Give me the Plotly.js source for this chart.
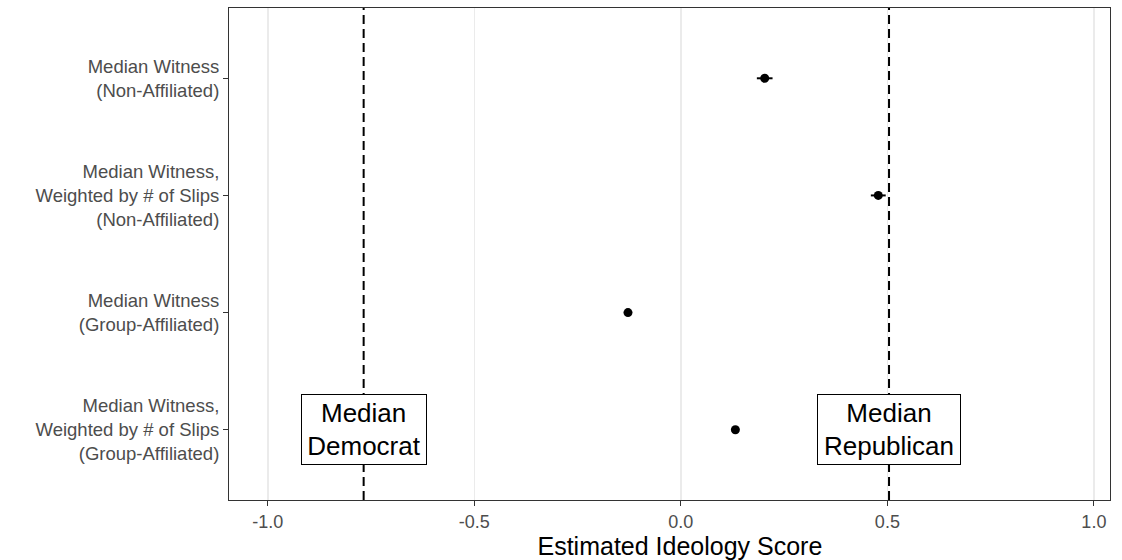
<!DOCTYPE html>
<html>
<head>
<meta charset="utf-8">
<script src="https://cdn.plot.ly/plotly-3.0.1.min.js"></script>
<style>html,body{margin:0;padding:0;background:#fff;}#chart{width:1122px;height:560px;}</style>
</head>
<body>
<div id="chart"></div>
<script>
const categories = [
  "Median Witness<br>(Non-Affiliated)",
  "Median Witness,<br>Weighted by # of Slips<br>(Non-Affiliated)",
  "Median Witness<br>(Group-Affiliated)",
  "Median Witness,<br>Weighted by # of Slips<br>(Group-Affiliated)"
];
const estimates = [0.203, 0.478, -0.128, 0.132];
const errors = [0.019, 0.018, 0.004, 0.004];
const medianDemocrat = -0.768;
const medianRepublican = 0.504;
const refLabels = ["Median<br>Democrat", "Median<br>Republican"];
const xTicks = [-1.0, -0.5, 0.0, 0.5, 1.0];
const xTickText = ["-1.0", "-0.5", "0.0", "0.5", "1.0"];

const font = "Liberation Sans, Arial, sans-serif";

const trace = {
  type: "scatter",
  mode: "markers",
  x: estimates,
  y: categories,
  marker: {color: "#000", size: 9},
  error_x: {type: "data", array: errors, visible: true, color: "#000", thickness: 2, width: 0},
  showlegend: false,
  hoverinfo: "x+y"
};

const refs = [medianDemocrat, medianRepublican];
const boxWidths = [120, 138];

const layout = {
  width: 1122, height: 560,
  margin: {l: 229, r: 12, t: 8, b: 60},
  paper_bgcolor: "#fff", plot_bgcolor: "#fff",
  font: {family: font, color: "#000"},
  xaxis: {
    range: [-1.094, 1.039],
    tickvals: xTicks, ticktext: xTickText,
    showgrid: true, gridcolor: "#EBEBEB", gridwidth: 1.5,
    zeroline: false,
    ticks: "outside", ticklen: 5, tickcolor: "#333", tickwidth: 1,
    tickfont: {size: 18, color: "#4D4D4D", family: font},
    showline: true, linecolor: "#333", linewidth: 1, mirror: true,
    title: {text: "&nbsp;&nbsp;&nbsp;Estimated Ideology Score", font: {size: 25, color: "#000", family: font}, standoff: 2}
  },
  yaxis: {
    type: "category",
    categoryorder: "array", categoryarray: categories,
    range: [3.6, -0.6],
    showgrid: false, zeroline: false,
    ticks: "outside", ticklen: 5, tickcolor: "#333", tickwidth: 1,
    tickfont: {size: 18.5, color: "#4D4D4D", family: font},
    showline: true, linecolor: "#333", linewidth: 1, mirror: true
  },
  shapes: refs.map(v => ({
    type: "line", xref: "x", yref: "paper", x0: v, x1: v, y0: 0, y1: 1,
    line: {color: "#000", width: 2, dash: "9px,5px"}, layer: "above"
  })),
  annotations: refs.map((v, i) => ({
    x: v, y: categories[3], xref: "x", yref: "y",
    text: refLabels[i], showarrow: false,
    font: {size: 26, color: "#000", family: font},
    bgcolor: "#fff", bordercolor: "#000", borderwidth: 1, borderpad: 2,
    width: boxWidths[i], height: 65,
    align: "center", valign: "middle"
  }))
};

Plotly.newPlot("chart", [trace], layout, {displayModeBar: false, staticPlot: true});
</script>
</body>
</html>
